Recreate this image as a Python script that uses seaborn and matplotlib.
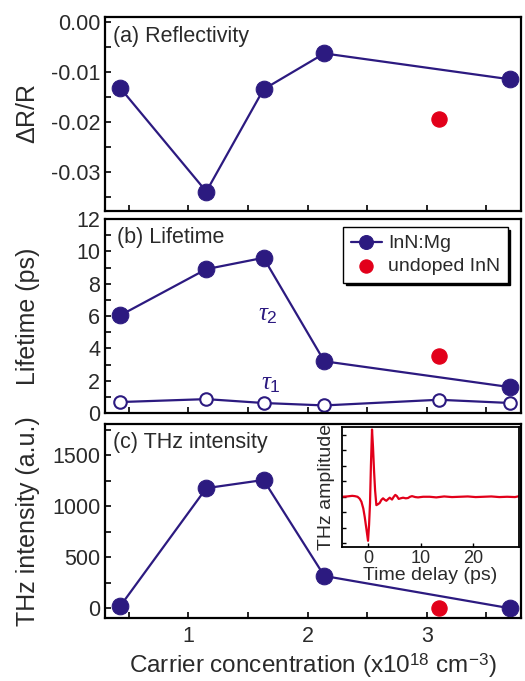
import numpy as np
import pandas as pd
import matplotlib.pyplot as plt
import seaborn as sns
from matplotlib.ticker import MultipleLocator, NullFormatter

# data
conc = [0.43, 1.15, 1.63, 2.14, 3.70]
conc_undoped = [3.10]

refl = [-0.0133, -0.0340, -0.0135, -0.0063, -0.0115]
refl_undoped = [-0.0195]

tau2 = [6.05, 8.9, 9.6, 3.2, 1.6]
tau2_undoped = [3.55]
tau1_conc = [0.43, 1.15, 1.63, 2.14, 3.10, 3.70]
tau1 = [0.68, 0.86, 0.62, 0.47, 0.82, 0.62]

thz = [25, 1178, 1258, 317, 0]
thz_undoped = [3]

# inset THz waveform (time in ps, amplitude arb.)
wave_t = [-5.0, -4.0, -3.0, -2.5, -2.0, -1.6, -1.26, -0.9, -0.63, -0.3, 0.0, 0.2,
          0.38, 0.55, 0.76, 0.95, 1.14, 1.35, 1.59, 1.9, 2.22, 2.55, 2.86, 3.2,
          3.49, 3.8, 4.13, 4.57, 4.9, 5.2, 5.5, 5.84, 6.2, 6.67, 7.2, 7.62, 8.0,
          8.38, 9.0, 9.52, 10.5, 11.74, 13.0, 14.5, 16.0, 17.5, 19.0, 20.5, 22.0,
          23.5, 25.0, 26.5, 28.0, 28.8]
wave_a = [0.0, 0.01, 0.03, 0.02, 0.0, -0.06, -0.16, -0.38, -0.65, -1.05, -1.42, -0.9,
          -0.2, 1.0, 2.17, 1.6, 0.86, 0.2, -0.27, -0.24, -0.2, -0.1, -0.05, -0.1,
          -0.13, -0.08, -0.03, -0.09, 0.0, 0.06, 0.02, -0.07, -0.05, -0.03, -0.05, -0.04, 0.0,
          0.02, -0.01, -0.02, 0.0, 0.0, -0.02, 0.01, -0.01, 0.0, 0.01, -0.01, 0.0,
          0.01, -0.01, 0.0, -0.01, 0.02]

purple = '#2c1a80'
red = '#e2001a'
txt = '#2a2a2a'

sns.set_style("ticks")
plt.rcParams['font.family'] = ['Liberation Sans', 'DejaVu Sans']
plt.rcParams['mathtext.fontset'] = 'custom'
plt.rcParams['mathtext.rm'] = 'Liberation Sans'
plt.rcParams['mathtext.it'] = 'Liberation Serif:italic'
plt.rcParams['text.color'] = txt
plt.rcParams['axes.labelcolor'] = txt
plt.rcParams['xtick.color'] = 'black'
plt.rcParams['ytick.color'] = 'black'
plt.rcParams['xtick.labelcolor'] = txt
plt.rcParams['ytick.labelcolor'] = txt

fig = plt.figure(figsize=(5.25, 6.81), dpi=100)
L, W = 0.2, 0.7924
ax_a = fig.add_axes([L, 0.6902, W, 0.2848])
ax_b = fig.add_axes([L, 0.3935, W, 0.2849])
ax_c = fig.add_axes([L, 0.0925, W, 0.2849])

xlim = (0.30, 3.79)


def style(ax):
    ax.set_xlim(*xlim)
    for s in ax.spines.values():
        s.set_linewidth(1.6)
        s.set_color('black')
    ax.xaxis.set_major_locator(MultipleLocator(1))
    ax.xaxis.set_minor_locator(MultipleLocator(0.5))
    ax.tick_params(which='both', direction='in', length=4, width=1.2,
                   top=False, right=False, labelsize=15.5)
    ax.yaxis.set_label_coords(-0.157, 0.5)


mk = dict(marker='o', markersize=12, color=purple, markeredgecolor=purple, linewidth=1.6)

# (a) reflectivity
sns.lineplot(x=conc, y=refl, ax=ax_a, **mk)
sns.scatterplot(x=conc_undoped, y=refl_undoped, ax=ax_a, color=red, s=120, edgecolor=red, zorder=3)
style(ax_a)
ax_a.set_ylim(-0.0379, 0.001)
ax_a.yaxis.set_major_locator(MultipleLocator(0.01))
ax_a.yaxis.set_minor_locator(MultipleLocator(0.005))
ax_a.yaxis.set_major_formatter(lambda v, p: f'{v:.2f}' if abs(v) > 1e-9 else '0.00')
ax_a.xaxis.set_major_formatter(NullFormatter())
ax_a.set_ylabel(r'$\Delta$R/R', fontsize=18)
ax_a.text(0.02, 0.9, '(a) Reflectivity', transform=ax_a.transAxes, fontsize=15.5, va='center')

# (b) lifetime
sns.lineplot(x=conc, y=tau2, ax=ax_b, label='InN:Mg', **mk)
sns.scatterplot(x=conc_undoped, y=tau2_undoped, ax=ax_b, color=red, s=120, edgecolor=red,
                zorder=3, label='undoped InN')
sns.lineplot(x=tau1_conc, y=tau1, ax=ax_b, marker='o', markersize=9, color=purple,
             markerfacecolor='white', markeredgecolor=purple, markeredgewidth=1.5, linewidth=1.6)
style(ax_b)
ax_b.set_ylim(0, 12)
ax_b.yaxis.set_major_locator(MultipleLocator(2))
ax_b.yaxis.set_minor_locator(MultipleLocator(1))
ax_b.xaxis.set_major_formatter(NullFormatter())
ax_b.set_ylabel('Lifetime (ps)', fontsize=18)
ax_b.text(0.03, 0.907, '(b) Lifetime', transform=ax_b.transAxes, fontsize=15.5, va='center')
ax_b.text(1.67, 6.1, r'$\tau_2$', color=purple, fontsize=18, ha='center', va='center')
ax_b.text(1.69, 1.85, r'$\tau_1$', color=purple, fontsize=18, ha='center', va='center')
leg = ax_b.legend(loc='upper right', bbox_to_anchor=(0.968, 0.959), borderaxespad=0,
                  fontsize=14, frameon=True, fancybox=False, handlelength=1.6,
                  handletextpad=0.3, borderpad=0.4, labelspacing=0.25,
                  shadow={'color': 'black', 'alpha': 1})
leg.get_frame().set_edgecolor('black')
leg.get_frame().set_linewidth(1.0)
leg.get_frame().set_alpha(1)
for h in leg.legend_handles:
    try:
        h.set_markersize(10)
    except AttributeError:
        h.set_sizes([90])

# (c) THz intensity
sns.lineplot(x=conc, y=thz, ax=ax_c, **mk)
sns.scatterplot(x=conc_undoped, y=thz_undoped, ax=ax_c, color=red, s=120, edgecolor=red, zorder=3)
style(ax_c)
ax_c.set_ylim(-95, 1807)
ax_c.yaxis.set_major_locator(MultipleLocator(500))
ax_c.yaxis.set_minor_locator(MultipleLocator(250))
ax_c.xaxis.set_major_formatter(lambda v, p: f'{v:g}' if v > 0.6 else '')
ax_c.set_ylabel('THz intensity (a.u.)', fontsize=18)
ax_c.set_xlabel(r'Carrier concentration (x10$^{18}$ cm$^{-3}$)', fontsize=17.5, labelpad=3)
ax_c.tick_params(axis='x', pad=6)
ax_c.text(0.02, 0.904, '(c) THz intensity', transform=ax_c.transAxes, fontsize=15.5, va='center')

# inset with THz waveform
ins = fig.add_axes([0.651, 0.1968, 0.338, 0.1766])
sns.lineplot(x=wave_t, y=wave_a, ax=ins, color=red, linewidth=1.6, sort=False)
ins.set_xlim(-5, 28.8)
ins.set_ylim(-1.62, 2.26)
ins.xaxis.set_major_locator(MultipleLocator(10))
ins.yaxis.set_major_locator(MultipleLocator(1))
ins.yaxis.set_minor_locator(MultipleLocator(0.5))
ins.yaxis.set_major_formatter(NullFormatter())
ins.tick_params(which='both', direction='in', length=3, width=1.0, top=False, right=False,
                labelsize=13, pad=2)
for s in ins.spines.values():
    s.set_linewidth(1.3)
    s.set_color('black')
ins.set_xlabel('Time delay (ps)', fontsize=14, labelpad=0)
ins.set_ylabel('THz amplitude', fontsize=14, labelpad=3)

fig.savefig('out.png', dpi=100)
